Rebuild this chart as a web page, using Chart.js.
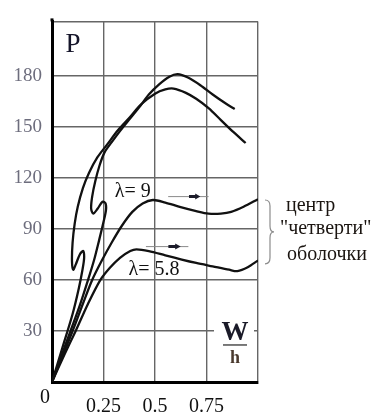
<!DOCTYPE html>
<html>
<head>
<meta charset="utf-8">
<script src="https://cdn.jsdelivr.net/npm/chart.js@4.4.1/dist/chart.umd.min.js"></script>
<style>
  html, body { margin: 0; padding: 0; background: #fff; }
  canvas { display: block; }
</style>
</head>
<body>
<canvas id="chart" width="371" height="412"></canvas>
<script>
// Horizontal axis: relative deflection W/h
const wTicks = [0, 0.25, 0.5, 0.75, 1];
const wTickLabels = ['', '0.25', '0.5', '0.75', ''];
// Vertical axis: load P
const pTicks = [30, 60, 90, 120, 150, 180];
const pTop = 212;

// Upper curve with the low hook, peaking near 172
const wUpperA = [0, 0.05, 0.1, 0.13, 0.148, 0.156, 0.151, 0.135, 0.115, 0.103, 0.097, 0.1, 0.11, 0.125, 0.15, 0.18, 0.22, 0.27, 0.32, 0.38, 0.43, 0.5, 0.55, 0.59, 0.65, 0.7, 0.76, 0.82, 0.88, 0.94];
const pUpperA = [0, 20, 40, 55, 66, 73, 77, 75, 69, 66, 71, 82, 93, 103, 114, 123, 132, 140, 148, 156, 163, 169.5, 172, 172.5, 170, 166.5, 161, 154, 147, 140.5];

// Upper curve with the S-bend near P = 100, peaking near 181
const wUpperB = [0, 0.045, 0.09, 0.135, 0.175, 0.205, 0.23, 0.25, 0.262, 0.26, 0.245, 0.222, 0.2, 0.19, 0.195, 0.21, 0.23, 0.255, 0.29, 0.33, 0.38, 0.43, 0.47, 0.52, 0.57, 0.61, 0.66, 0.72, 0.78, 0.84, 0.887];
const pUpperB = [0, 15, 30, 45, 60, 72, 84, 94, 101, 105, 106, 102, 99, 102, 109, 118, 127, 135, 141, 147.5, 155, 162.5, 169, 175, 179.5, 181, 179, 174.5, 169, 164, 160.5];

// Quarter-shell centre, λ = 9
const wLambda9 = [0, 0.05, 0.1, 0.15, 0.195, 0.24, 0.29, 0.34, 0.39, 0.44, 0.49, 0.55, 0.62, 0.7, 0.76, 0.82, 0.87, 0.93, 1.0];
const pLambda9 = [0, 15, 30, 46, 60, 71, 82, 92, 100, 105, 107, 105.5, 103, 100.5, 99, 99, 100, 103, 107.5];

// Quarter-shell centre, λ = 5.8
const wLambda58 = [0, 0.06, 0.115, 0.175, 0.235, 0.28, 0.33, 0.38, 0.41, 0.47, 0.55, 0.63, 0.7, 0.78, 0.86, 0.9, 0.95, 1.0];
const pLambda58 = [0, 16, 30, 46, 60, 67, 73, 77, 78, 77, 74.5, 72, 70, 68, 66, 65.2, 67.5, 71.5];

const SERIF = '"Liberation Serif", "Times New Roman", serif';

function pairs(ws, ps) {
  return ws.map((w, i) => ({ x: w, y: ps[i] }));
}

function curve(label, ws, ps) {
  return {
    label,
    data: pairs(ws, ps),
    showLine: true,
    borderColor: '#111',
    borderWidth: 2.3,
    pointRadius: 0,
    tension: 0.3,
    fill: false
  };
}

// Small arrow: thin shaft with a dark head, placed in data coordinates
function drawArrow(ctx, x, y, w0, w1, h0, h1, p) {
  const py = y.getPixelForValue(p);
  const x0 = x.getPixelForValue(w0), x1 = x.getPixelForValue(w1);
  const hx0 = x.getPixelForValue(h0), hx1 = x.getPixelForValue(h1);
  const hm = hx0 + (hx1 - hx0) * 0.55;
  ctx.save();
  ctx.strokeStyle = '#8a8a8a';
  ctx.lineWidth = 1;
  ctx.beginPath();
  ctx.moveTo(x0, py); ctx.lineTo(x1, py);
  ctx.stroke();
  ctx.fillStyle = '#1c1c2a';
  ctx.beginPath();
  ctx.moveTo(hx0, py - 1.5);
  ctx.lineTo(hm, py - 1.5);
  ctx.lineTo(hm, py - 3);
  ctx.lineTo(hx1, py);
  ctx.lineTo(hm, py + 3);
  ctx.lineTo(hm, py + 1.5);
  ctx.lineTo(hx0, py + 1.5);
  ctx.closePath();
  ctx.fill();
  ctx.restore();
}

const decorations = {
  id: 'decorations',
  beforeDraw(chart) {
    const { ctx, width, height } = chart;
    ctx.save();
    ctx.fillStyle = '#fff';
    ctx.fillRect(0, 0, width, height);
    ctx.restore();
  },
  afterDraw(chart) {
    const { ctx, chartArea: a, scales: { x, y } } = chart;
    ctx.save();

    // vertical axis runs a little past the top grid line
    ctx.strokeStyle = '#000';
    ctx.lineWidth = 3;
    ctx.beginPath();
    ctx.moveTo(a.left, a.top);
    ctx.lineTo(a.left, a.top - 3);
    ctx.stroke();

    // origin label
    ctx.fillStyle = '#111';
    ctx.font = '20px ' + SERIF;
    ctx.textAlign = 'center';
    ctx.textBaseline = 'middle';
    ctx.fillText('0', x.getPixelForValue(0) - 7, a.bottom + 16);

    // axis title P
    ctx.fillStyle = '#15152a';
    ctx.font = '27px ' + SERIF;
    ctx.fillText('P', a.left + 21, a.top + 24);

    // axis title W/h on a white patch
    const cx = a.right - 23;
    const gy = y.getPixelForValue(30);
    ctx.fillStyle = '#fff';
    ctx.fillRect(cx - 21, gy - 12, 40, 48);
    ctx.fillStyle = '#1a1a28';
    ctx.font = 'bold 27px ' + SERIF;
    ctx.fillText('W', cx, gy + 2);
    ctx.strokeStyle = '#333';
    ctx.lineWidth = 1.3;
    ctx.beginPath();
    ctx.moveTo(cx - 12, gy + 14);
    ctx.lineTo(cx + 12, gy + 14);
    ctx.stroke();
    ctx.fillStyle = '#4a3a2e';
    ctx.font = 'bold 18px ' + SERIF;
    ctx.fillText('h', cx, gy + 27);

    // curve labels
    ctx.fillStyle = '#111';
    ctx.font = '20px ' + SERIF;
    ctx.fillText('λ= 9', x.getPixelForValue(0.392), y.getPixelForValue(112));
    ctx.fillText('λ= 5.8', x.getPixelForValue(0.495), y.getPixelForValue(66));

    // arrows
    drawArrow(ctx, x, y, 0.564, 0.76, 0.665, 0.72, 109);
    drawArrow(ctx, x, y, 0.456, 0.662, 0.565, 0.625, 79.6);

    // brace grouping the two lower curves
    const bx = a.right + 7;
    const bt = y.getPixelForValue(107), bb = y.getPixelForValue(69.5);
    const bm = (bt + bb) / 2;
    ctx.strokeStyle = '#8c8c8c';
    ctx.lineWidth = 1.2;
    ctx.beginPath();
    ctx.moveTo(bx, bt);
    ctx.quadraticCurveTo(bx + 5, bt, bx + 5, bt + 6);
    ctx.lineTo(bx + 5, bm - 6);
    ctx.quadraticCurveTo(bx + 5, bm, bx + 9, bm);
    ctx.quadraticCurveTo(bx + 5, bm, bx + 5, bm + 6);
    ctx.lineTo(bx + 5, bb - 6);
    ctx.quadraticCurveTo(bx + 5, bb, bx, bb);
    ctx.stroke();

    // caption beside the brace
    ctx.fillStyle = '#1a1410';
    ctx.font = '20px ' + SERIF;
    ctx.textAlign = 'left';
    ctx.fillText('центр', a.right + 28, bt + 6);
    ctx.fillText('"четверти"', a.right + 22, bm - 3);
    ctx.fillText('оболочки', a.right + 29, bb - 9);

    ctx.restore();
  }
};

new Chart(document.getElementById('chart'), {
  type: 'scatter',
  data: {
    datasets: [
      curve('upper A', wUpperA, pUpperA),
      curve('upper B', wUpperB, pUpperB),
      curve('λ = 9', wLambda9, pLambda9),
      curve('λ = 5.8', wLambda58, pLambda58)
    ]
  },
  options: {
    responsive: false,
    animation: false,
    devicePixelRatio: 1,
    layout: { padding: { top: 14, right: 113, left: 0, bottom: 0 } },
    plugins: {
      legend: { display: false },
      tooltip: { enabled: false },
      title: { display: false }
    },
    scales: {
      x: {
        type: 'linear',
        min: 0,
        max: 1,
        afterBuildTicks: s => { s.ticks = wTicks.map(v => ({ value: v })); },
        afterFit: s => { s.height = 30; },
        grid: { color: '#666', lineWidth: 1.4, drawTicks: false },
        border: { display: true, color: '#000', width: 3 },
        ticks: {
          autoSkip: false,
          maxRotation: 0,
          padding: 13,
          color: '#111',
          font: { family: SERIF, size: 20 },
          callback: (v, i) => wTickLabels[i]
        }
      },
      y: {
        type: 'linear',
        min: 0,
        max: pTop,
        afterBuildTicks: s => { s.ticks = [0, ...pTicks, pTop].map(v => ({ value: v })); },
        afterFit: s => { s.width = 52; },
        grid: { color: '#666', lineWidth: 1.4, drawTicks: false },
        border: { display: true, color: '#000', width: 3 },
        ticks: {
          padding: 10,
          color: '#6d6d7d',
          font: { family: SERIF, size: 19 },
          callback: v => (pTicks.includes(v) ? String(v) : '')
        }
      }
    }
  },
  plugins: [decorations]
});
</script>
</body>
</html>
